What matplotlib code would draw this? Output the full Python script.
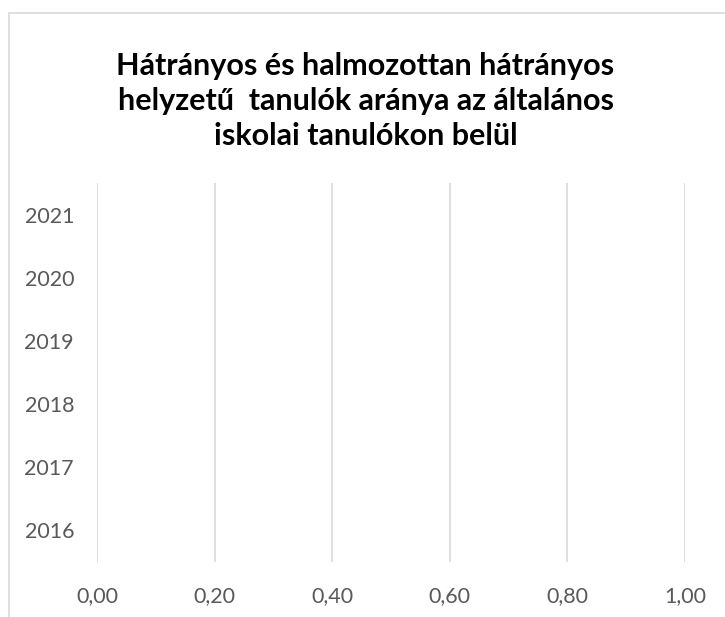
import numpy as np
import matplotlib.pyplot as plt
from matplotlib.patches import Rectangle

# chart data (the source chart shows no bars)
years = ["2016", "2017", "2018", "2019", "2020", "2021"]
values = [np.nan, np.nan, np.nan, np.nan, np.nan, np.nan]
x_ticks = [0.0, 0.2, 0.4, 0.6, 0.8, 1.0]
x_labels = ["0,00", "0,20", "0,40", "0,60", "0,80", "1,00"]
title = "Hátrányos és halmozottan hátrányos\nhelyzetű  tanulók aránya az általános\niskolai tanulókon belül"

plt.rcParams['font.family'] = ['Lato', 'DejaVu Sans']

fig = plt.figure(figsize=(7.25, 6.17), dpi=100)

# light chart-area border (cropped on right and bottom)
fig.patches.append(Rectangle((9 / 725, -0.1), 1.0, 1.1 - 13 / 617,
                             transform=fig.transFigure, fill=False,
                             edgecolor='#d9d9d9', linewidth=1.2))

ax = fig.add_axes([97 / 725, 1 - 562 / 617, 588 / 725, 379 / 617])
ax.barh(np.arange(len(years)), values, height=0.6, color='#4472c4')

ax.set_xlim(0, 1)
ax.set_ylim(-0.5, len(years) - 0.5)
ax.set_xticks(x_ticks)
ax.set_xticklabels(x_labels)
ax.set_yticks(np.arange(len(years)))
ax.set_yticklabels(years)

ax.tick_params(axis='both', length=0, labelsize=15.5, labelcolor='#595959')
ax.tick_params(axis='y', pad=16.5)
ax.tick_params(axis='x', pad=17)
ax.grid(axis='x', color='#d9d9d9', linewidth=1.2)
ax.set_axisbelow(True)
for s in ax.spines.values():
    s.set_visible(False)

fig.text(0.5 + 3 / 725, 1 - 101 / 617, title, ha='center', va='center',
         fontsize=22, fontweight='bold', color='black', linespacing=1.32)

fig.savefig('out.png', dpi=100)
